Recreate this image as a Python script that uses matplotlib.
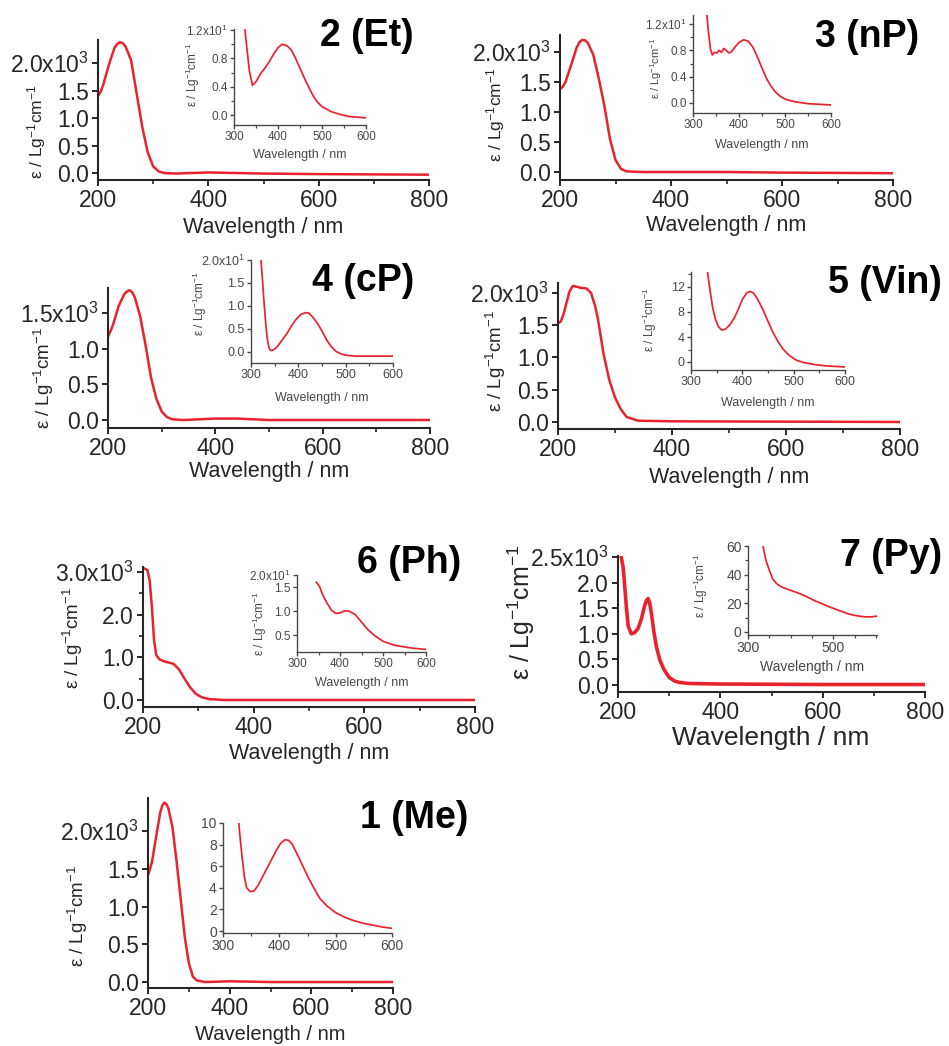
import matplotlib
matplotlib.use('Agg')
import matplotlib.pyplot as plt

plt.rcParams['font.family'] = ['Liberation Sans', 'DejaVu Sans']
plt.rcParams['mathtext.fontset'] = 'custom'
plt.rcParams['mathtext.rm'] = 'Liberation Sans'
plt.rcParams['mathtext.it'] = 'Liberation Sans:italic'
plt.rcParams['mathtext.bf'] = 'Liberation Sans:bold'

# ---- data (epsilon in units of 10^3 for main plots, 10^1 / plain for insets) ----
me_wl = [200, 205, 210, 220, 230, 235, 240, 245, 250, 260, 270, 280, 290, 300, 310, 320, 340, 400, 500, 600, 800]
me_eps = [1.42, 1.5, 1.6, 1.93, 2.25, 2.34, 2.38, 2.36, 2.3, 2.05, 1.6, 1.1, 0.6, 0.25, 0.07, 0.02, 0.0, 0.01,
          0.0, 0.0, 0.0]
me_in_wl = [328, 331, 334, 338, 342, 348, 355, 362, 370, 378, 386, 394, 402, 410, 416, 422, 430, 440,
            450, 460, 472, 485, 500, 515, 530, 550, 570, 585, 600]
me_in = [10.0, 8.3, 6.8, 5.0, 4.0, 3.65, 3.7, 4.2, 5.0, 5.8, 6.6, 7.4, 8.1, 8.45, 8.4, 8.1, 7.3, 6.2,
         5.1, 4.1, 3.0, 2.3, 1.7, 1.3, 1.0, 0.7, 0.5, 0.35, 0.25]

et_wl = [200, 205, 210, 220, 230, 235, 240, 245, 250, 260, 270, 280, 290, 300, 310, 320, 340, 400, 500, 600, 800]
et_eps = [1.40, 1.48, 1.62, 1.98, 2.28, 2.35, 2.38, 2.36, 2.30, 2.05, 1.45, 0.85, 0.38, 0.12, 0.03, 0.0, -0.01,
          0.01, -0.01, -0.02, -0.03]
et_in_wl = [325, 330, 335, 342, 350, 360, 370, 380, 390, 400, 410, 420, 430, 440, 450, 460, 470, 480,
            490, 500, 520, 540, 560, 580, 600]
et_in = [1.2, 0.9, 0.62, 0.42, 0.47, 0.58, 0.66, 0.75, 0.86, 0.95, 1.0, 0.98, 0.92, 0.8, 0.66, 0.52, 0.39, 0.27,
         0.18, 0.12, 0.05, 0.01, -0.02, -0.03, -0.04]

np_wl = [200, 205, 210, 220, 230, 235, 240, 245, 250, 260, 270, 280, 290, 300, 310, 320, 350, 400, 500, 600, 800]
np_eps = [1.38, 1.42, 1.5, 1.78, 2.07, 2.16, 2.2, 2.19, 2.15, 1.95, 1.55, 1.1, 0.55, 0.2, 0.05, 0.01, 0.0, 0.0,
          0.0, -0.01, -0.02]
np_in_wl = [330, 334, 338, 342, 347, 352, 357, 362, 367, 372, 378, 384, 390, 400, 410, 420, 430, 440,
            450, 460, 470, 480, 490, 500, 520, 550, 575, 600]
np_in = [1.34, 1.05, 0.82, 0.73, 0.77, 0.76, 0.8, 0.77, 0.83, 0.8, 0.76, 0.78, 0.84, 0.92, 0.96, 0.94, 0.85, 0.7,
         0.53, 0.37, 0.25, 0.16, 0.1, 0.06, 0.02, -0.01, -0.02, -0.03]

cp_wl = [200, 205, 210, 220, 230, 235, 240, 245, 250, 260, 270, 280, 290, 300, 310, 320, 340, 400, 440, 500, 800]
cp_eps = [1.17, 1.25, 1.35, 1.6, 1.76, 1.8, 1.82, 1.79, 1.72, 1.45, 1.05, 0.6, 0.3, 0.12, 0.04, 0.01, 0.0, 0.02,
          0.02, 0.0, 0.0]
cp_in_wl = [321, 324, 327, 330, 334, 338, 342, 348, 355, 365, 375, 385, 395, 405, 415, 422, 430, 440,
            450, 460, 470, 480, 490, 500, 520, 550, 600]
cp_in = [2.0, 1.6, 1.15, 0.75, 0.3, 0.08, 0.02, 0.04, 0.1, 0.24, 0.38, 0.55, 0.7, 0.81, 0.85, 0.84, 0.76, 0.62,
         0.45, 0.25, 0.1, 0.0, -0.05, -0.08, -0.1, -0.1, -0.1]

vin_wl = [200, 205, 210, 215, 220, 226, 232, 240, 250, 258, 265, 270, 280, 290, 300, 310, 320, 340, 400, 800]
vin_eps = [1.53, 1.56, 1.68, 1.85, 2.02, 2.11, 2.1, 2.08, 2.07, 2.0, 1.8, 1.6, 1.05, 0.65, 0.38, 0.2, 0.08, 0.02, 0.01, 0.0]
vin_in_wl = [332, 337, 342, 347, 353, 360, 368, 376, 384, 392, 400, 408, 415, 422, 430, 440, 450, 460,
             470, 480, 492, 505, 520, 540, 560, 580, 600]
vin_in = [14.5, 11.5, 8.8, 7.0, 5.7, 5.1, 5.3, 6.0, 7.0, 8.4, 10.0, 11.0, 11.3, 11.0, 10.0, 8.4, 6.5, 4.7,
          3.2, 2.0, 1.0, 0.3, -0.1, -0.4, -0.6, -0.7, -0.8]

ph_wl = [203, 208, 212, 216, 220, 224, 230, 240, 255, 265, 275, 285, 295, 305, 320, 350, 400, 500, 800]
ph_eps = [3.08, 3.05, 2.8, 2.2, 1.4, 1.05, 0.95, 0.9, 0.85, 0.72, 0.5, 0.3, 0.15, 0.07, 0.02, 0.0, 0.0, 0.0, 0.0]
ph_in_wl = [345, 352, 360, 370, 380, 390, 400, 410, 420, 435, 450, 465, 480, 500, 525, 550, 575, 600]
ph_in = [1.6, 1.52, 1.33, 1.16, 1.02, 0.95, 0.96, 1.0, 1.0, 0.93, 0.77, 0.61, 0.49, 0.37, 0.29, 0.25, 0.22, 0.2]

py_wl = [206, 210, 213, 217, 220, 226, 232, 239, 246, 252, 256, 259, 262, 266, 270, 275, 282, 290, 300,
         310, 320, 340, 400, 600, 800]
py_eps = [2.52, 2.3, 1.95, 1.45, 1.15, 1.0, 1.02, 1.1, 1.3, 1.55, 1.66, 1.69, 1.6, 1.35, 1.05, 0.75, 0.48, 0.3, 0.15,
          0.08, 0.05, 0.03, 0.02, 0.01, 0.01]
py_in_wl = [335, 342, 350, 358, 366, 378, 395, 415, 435, 455, 475, 495, 515, 535, 555, 575, 590, 600]
py_in = [60, 50, 43, 37, 34, 31.5, 29.5, 27.5, 25, 22, 19.5, 17, 14.8, 12.6, 11.3, 10.5, 10.6, 11]

main_xticks = [200, 400, 600, 800]
inset_xticks = [300, 400, 500, 600]
ylab_txt = 'ε / Lg$^{-1}$cm$^{-1}$'
xlab_txt = 'Wavelength / nm'

# ---- layout (pixel boxes: left, top, right, bottom) ----
W, H = 949, 1046
RED = '#e8232d'
INK = '#262626'
GREY = '#484848'


def box(l, t, r, b):
    return [l / W, 1 - b / H, (r - l) / W, (b - t) / H]


def ftext(x, y, s, **kw):
    fig.text(x / W, 1 - y / H, s, ha='center', va='center', **kw)


def fmt(vals, top):
    labs = ['%g' % v if isinstance(v, int) else '%.1f' % v for v in vals]
    if top:
        labs[-1] = top
    return labs


panels = [
    dict(wl=et_wl, y=et_eps, iwl=et_in_wl, iy=et_in, title='2 (Et)', tpos=(367, 36),
         box=(98, 40, 429, 180), ylim=(-0.127, 2.42), yt=[0.0, 0.5, 1.0, 1.5, 2.0], ytop='2.0x10$^3$', ymin=[],
         ylab=(37, 132, 12.5), xlab=(263, 227, 15.5), lw=1.8,
         ibox=(234, 29, 366, 125), iylim=(-0.141, 1.214), iyt=[0.0, 0.4, 0.8, 1.2], iytop='1.2x10$^1$',
         iymin=[0.2, 0.6, 1.0], ixt=inset_xticks, ixmin=[350, 450, 550], iylab=(193, 75, 8.5), ixlab=155, ifs=8.5),
    dict(wl=np_wl, y=np_eps, iwl=np_in_wl, iy=np_in, title='3 (nP)', tpos=(867, 37),
         box=(560, 35, 893, 180), ylim=(-0.133, 2.28), yt=[0.0, 0.5, 1.0, 1.5, 2.0], ytop='2.0x10$^3$', ymin=[],
         ylab=(496, 115, 12.5), xlab=(726, 226, 15.5), lw=1.8,
         ibox=(693, 15, 831, 113), iylim=(-0.152, 1.337), iyt=[0.0, 0.4, 0.8, 1.2], iytop='1.2x10$^1$',
         iymin=[0.2, 0.6, 1.0], ixt=inset_xticks, ixmin=[350, 450, 550], iylab=(656, 68, 8), ixlab=145, ifs=8.5),
    dict(wl=cp_wl, y=cp_eps, iwl=cp_in_wl, iy=cp_in, title='4 (cP)', tpos=(363, 281),
         box=(108, 288, 430, 428), ylim=(-0.112, 1.85), yt=[0.0, 0.5, 1.0, 1.5], ytop='1.5x10$^3$', ymin=[],
         ylab=(44, 378, 13.5), xlab=(269, 471, 15.5), lw=1.8,
         ibox=(251, 260, 393, 363), iylim=(-0.25, 2.0), iyt=[0.0, 0.5, 1.0, 1.5, 2.0], iytop='2.0x10$^1$',
         iymin=[], ixt=inset_xticks, ixmin=[350, 450, 550], iylab=(200, 304, 8.5), ixlab=398, ifs=9),
    dict(wl=vin_wl, y=vin_eps, iwl=vin_in_wl, iy=vin_in, title='5 (Vin)', tpos=(885, 283),
         box=(558, 283, 900, 429), ylim=(-0.109, 2.155), yt=[0.0, 0.5, 1.0, 1.5, 2.0], ytop='2.0x10$^3$', ymin=[],
         ylab=(496, 361, 13.5), xlab=(729, 477, 15.5), lw=1.8,
         ibox=(691, 272, 845, 370), iylim=(-1.28, 14.4), iyt=[0, 4, 8, 12], iytop=None,
         iymin=[2, 6, 10, 14], ixt=inset_xticks, ixmin=[350, 450, 550], iylab=(650, 320, 8.5), ixlab=403, ifs=9),
    dict(wl=ph_wl, y=ph_eps, iwl=ph_in_wl, iy=ph_in, title='6 (Ph)', tpos=(409, 563),
         box=(143, 567, 475, 707), ylim=(-0.164, 3.12), yt=[0.0, 1.0, 2.0, 3.0], ytop='3.0x10$^3$',
         ymin=[0.5, 1.5, 2.5], ylab=(73, 638, 13.5), xlab=(309, 753, 15.5), lw=1.8,
         ibox=(297, 575, 426, 652), iylim=(0.146, 1.75), iyt=[0.5, 1.0, 1.5, 1.75], iytop='2.0x10$^1$',
         iymin=[], ixt=inset_xticks, ixmin=[350, 450, 550], iylab=(260, 624, 8.5), ixlab=683, ifs=8.5),
    dict(wl=py_wl, y=py_eps, iwl=py_in_wl, iy=py_in, title='7 (Py)', tpos=(891, 556),
         box=(618, 556, 925, 692), ylim=(-0.136, 2.52), yt=[0.0, 0.5, 1.0, 1.5, 2.0, 2.5], ytop='2.5x10$^3$',
         ymin=[], ylab=(521, 612, 18), xlab=(771, 738, 19), lw=2.6,
         ibox=(748, 546, 877, 635), iylim=(-2.1, 60), iyt=[0, 20, 40, 60], iytop=None,
         iymin=[10, 30, 50], ixt=[300, 500], ixmin=[350, 400, 450, 550, 600], iylab=(701, 586, 8.5), ixlab=667,
         ifs=10),
    dict(wl=me_wl, y=me_eps, iwl=me_in_wl, iy=me_in, title='1 (Me)', tpos=(414, 818),
         box=(148, 798, 393, 988), ylim=(-0.079, 2.44), yt=[0.0, 0.5, 1.0, 1.5, 2.0], ytop='2.0x10$^3$', ymin=[],
         ylab=(78, 916, 13.5), xlab=(270, 1035, 14.5), lw=1.8,
         ibox=(223, 823, 392, 933), iylim=(-0.185, 10), iyt=[0, 2, 4, 6, 8, 10], iytop=None,
         iymin=[], ixt=inset_xticks, ixmin=[350, 450, 550], iylab=None, ixlab=None, ifs=10),
]

fig = plt.figure(figsize=(W / 100, H / 100), dpi=100)

for p in panels:
    # main spectrum
    ax = fig.add_axes(box(*p['box']))
    ax.set_facecolor('none')
    ax.plot(p['wl'], p['y'], color=RED, lw=p['lw'], solid_joinstyle='round')
    ax.set_xlim(200, 800)
    ax.set_ylim(*p['ylim'])
    ax.set_xticks(main_xticks)
    ax.set_xticks([300, 500, 700], minor=True)
    ax.set_yticks(p['yt'], fmt(p['yt'], p['ytop']))
    ax.set_yticks(p['ymin'], minor=True)
    for s in ['top', 'right']:
        ax.spines[s].set_visible(False)
    for s in ['left', 'bottom']:
        ax.spines[s].set_linewidth(1.5)
        ax.spines[s].set_color(INK)
    ax.tick_params(which='major', direction='out', length=4.5, width=1.4, colors=INK,
                   labelsize=16.5, pad=2)
    ax.tick_params(which='minor', direction='out', length=3, width=1.2, colors=INK)
    ftext(p['ylab'][0], p['ylab'][1], ylab_txt, rotation=90, fontsize=p['ylab'][2], color=INK)
    ftext(p['xlab'][0], p['xlab'][1], xlab_txt, fontsize=p['xlab'][2], color=INK)
    ftext(p['tpos'][0], p['tpos'][1], p['title'], fontsize=27, fontweight='bold', color='black')

    # inset (visible region)
    ia = fig.add_axes(box(*p['ibox']))
    ia.set_facecolor('none')
    ia.plot(p['iwl'], p['iy'], color=RED, lw=1.25, solid_joinstyle='round')
    ia.set_xlim(300, 602 if p['title'] == '7 (Py)' else 600)
    ia.set_ylim(*p['iylim'])
    ia.set_xticks(p['ixt'])
    ia.set_xticks(p['ixmin'], minor=True)
    ia.set_yticks(p['iyt'], fmt(p['iyt'], p['iytop']))
    ia.set_yticks(p['iymin'], minor=True)
    for s in ['top', 'right']:
        ia.spines[s].set_visible(False)
    for s in ['left', 'bottom']:
        ia.spines[s].set_linewidth(1.0)
        ia.spines[s].set_color(GREY)
    ia.tick_params(which='major', direction='out', length=3, width=1.0, colors=GREY,
                   labelsize=p['ifs'], pad=1.5)
    ia.tick_params(which='minor', direction='out', length=2, width=0.9, colors=GREY)
    if p['iylab']:
        ftext(p['iylab'][0], p['iylab'][1], ylab_txt, rotation=90, fontsize=p['iylab'][2], color=GREY)
    if p['ixlab']:
        cx = (p['ibox'][0] + p['ibox'][2]) / 2
        ftext(cx, p['ixlab'], xlab_txt, fontsize=10 if p['title'] == '7 (Py)' else 9, color=GREY)

fig.savefig('out.png', dpi=100)
